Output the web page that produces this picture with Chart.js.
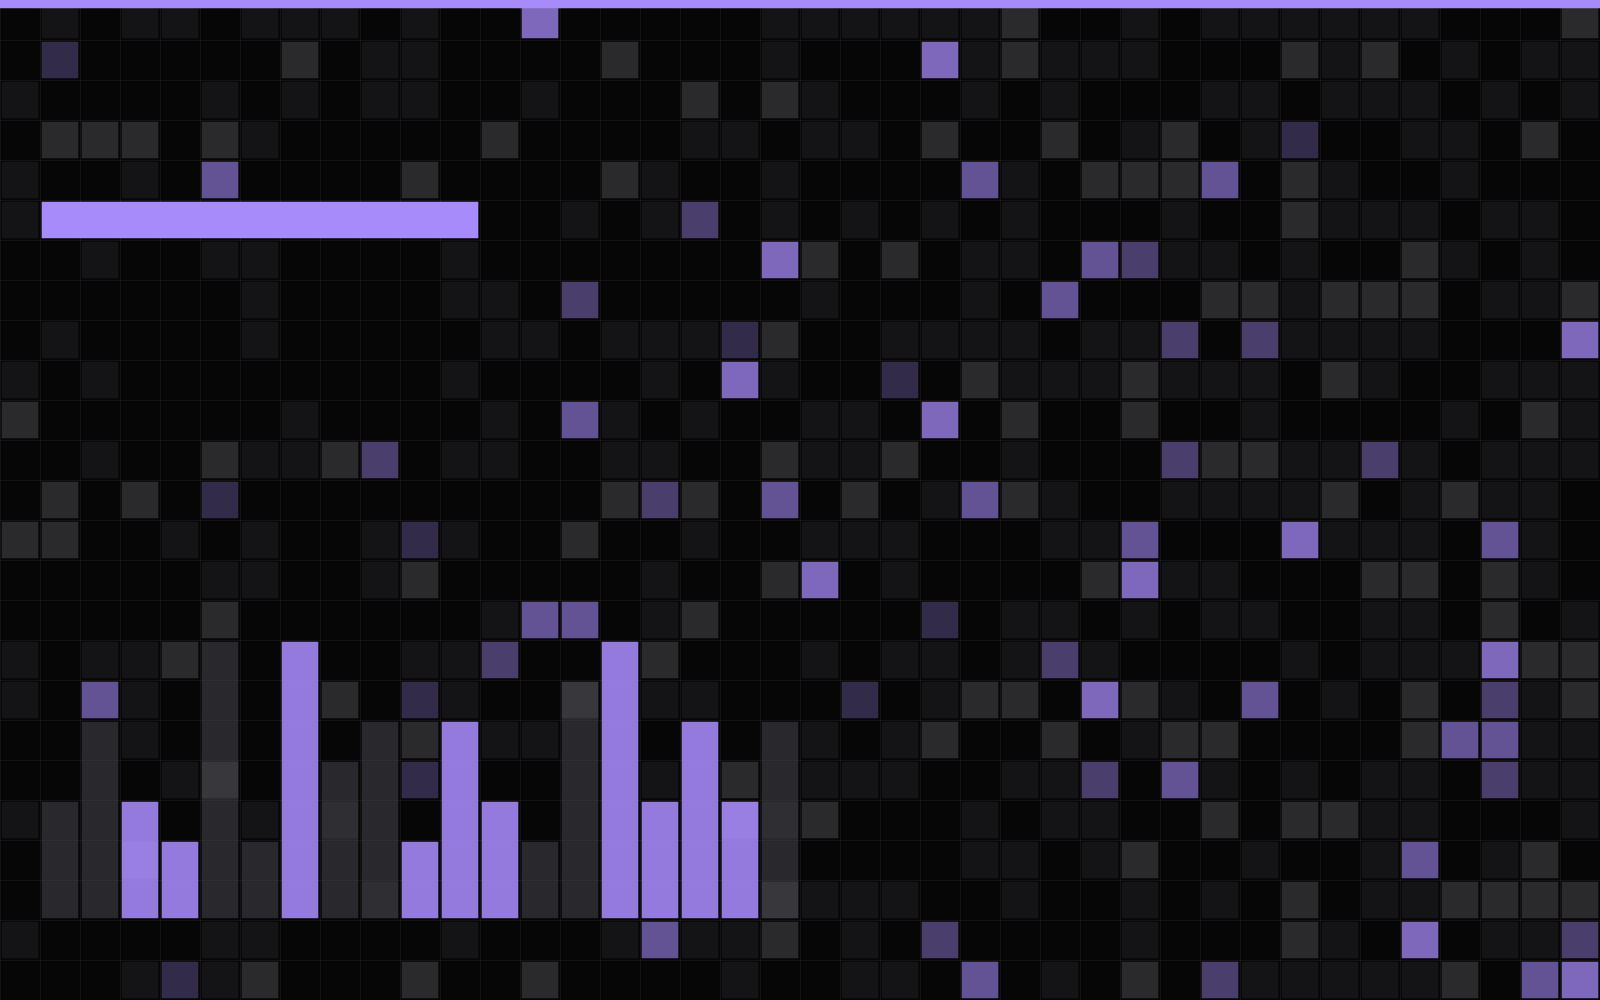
<!DOCTYPE html>
<html>
<head>
<meta charset="utf-8">
<title>Grid</title>
<script src="https://cdn.jsdelivr.net/npm/chart.js@4.4.1/dist/chart.umd.min.js"></script>
<style>
    html, body { margin: 0; padding: 0; background: #060606; }
    #wrap { width: 1600px; height: 1000px; }
</style>
</head>
<body>
<div id="wrap"><canvas id="grid-chart" width="1600" height="1000"></canvas></div>
<script>
var columnLabels = [];
for (var i = 1; i <= 40; i++) columnLabels.push("C" + i);
var rowLabels = [];
for (var j = 1; j <= 25; j++) rowLabels.push("R" + j);

// shade of every cell, row by row: 0 empty, 1 dim, 2 grey, 3..6 violet (weak -> strong)
var cellLevels = [
    [0,1,0,1,1,0,1,1,1,0,1,0,0,6,0,0,0,0,0,1, 1,1,1,1,1,2,0,0,1,0,1,1,1,1,1,1,0,0,0,2],
    [0,3,0,0,0,0,0,2,0,1,1,0,0,0,0,2,0,0,0,1, 0,0,0,6,1,2,1,1,1,0,0,0,2,1,2,0,1,0,1,1],
    [1,0,0,0,0,1,0,1,0,1,1,0,0,1,0,0,0,2,0,2, 1,0,0,0,1,0,1,0,0,0,1,1,0,1,1,1,0,1,0,1],
    [0,2,2,2,0,2,1,0,0,0,0,0,2,0,0,0,0,1,1,0, 1,1,0,2,0,0,2,0,1,2,0,1,3,0,0,1,1,0,2,0],
    [1,0,0,1,0,5,0,0,0,0,2,0,0,0,0,2,1,0,0,1, 0,0,0,0,5,1,0,2,2,2,5,0,2,1,0,0,1,0,0,0],
    [1,0,0,0,0,0,0,0,0,0,0,0,0,0,1,0,1,4,0,1, 0,1,0,1,0,1,0,0,0,1,0,0,2,1,1,1,0,1,1,0],
    [0,0,1,0,0,1,1,0,0,0,0,1,0,0,0,0,0,0,0,6, 2,0,2,0,1,1,0,5,4,1,1,0,1,0,0,2,1,0,1,0],
    [0,0,0,0,0,0,1,0,0,0,0,1,1,0,4,0,0,0,0,0, 1,0,0,0,1,0,5,0,0,0,2,2,1,2,2,2,0,1,1,2],
    [0,1,0,0,0,0,1,0,0,0,0,0,1,1,0,1,1,1,3,2, 0,0,1,1,1,1,0,1,1,4,0,4,1,1,1,1,0,0,0,6],
    [1,0,1,0,0,0,0,0,0,0,0,1,0,0,0,0,1,0,6,1, 0,0,3,0,2,1,1,1,2,1,1,1,0,2,1,0,0,1,1,1],
    [2,0,0,0,0,0,0,1,0,0,0,0,1,0,5,1,0,1,0,0, 1,1,0,6,0,2,0,0,2,0,0,1,0,0,0,0,1,0,2,1],
    [0,0,1,0,0,2,1,1,2,4,0,1,1,0,0,1,1,0,0,2, 1,1,2,0,0,1,0,0,0,4,2,2,1,1,4,1,0,1,1,1],
    [0,2,0,2,0,3,0,0,0,0,0,0,0,0,0,2,4,2,0,5, 0,2,0,1,5,2,1,0,0,1,1,1,1,2,0,1,2,1,1,0],
    [2,2,0,0,1,0,1,0,0,1,3,1,0,0,2,0,0,1,0,0, 1,1,1,0,0,0,1,1,5,0,0,0,6,1,1,1,0,5,1,0],
    [0,0,0,0,0,1,1,0,0,1,2,0,0,0,0,0,1,0,0,2, 6,0,1,0,0,0,0,2,6,1,1,0,0,0,2,2,0,2,1,0],
    [0,0,0,0,0,2,0,0,0,0,0,0,1,5,5,0,1,2,0,0, 0,0,0,3,0,1,1,0,1,0,1,1,0,0,1,1,0,2,0,1],
    [1,0,1,1,2,0,0,0,0,0,1,1,4,0,0,0,2,0,0,0, 1,0,1,1,0,1,4,1,0,0,0,0,1,0,1,1,1,6,2,2],
    [1,0,5,1,0,0,0,0,2,0,3,1,0,0,2,0,1,1,0,0, 0,3,0,1,2,2,0,6,2,1,0,5,0,1,0,2,0,4,1,2],
    [0,0,0,1,0,0,0,0,0,0,2,0,1,1,0,0,0,0,0,0, 1,0,1,2,0,0,2,0,1,2,2,0,0,0,0,2,5,5,1,1],
    [0,0,0,0,1,2,0,0,0,0,3,0,0,0,0,0,1,0,2,0, 1,1,1,0,0,1,1,4,0,5,1,0,1,0,1,1,0,4,1,1],
    [1,0,0,0,0,0,1,0,1,0,0,0,0,0,0,0,0,0,2,1, 2,0,0,0,1,0,1,1,0,0,2,0,2,2,1,1,0,0,0,1],
    [0,0,0,2,0,0,0,0,0,0,0,0,0,0,0,0,0,0,0,0, 0,0,0,0,1,1,0,1,2,0,0,1,0,0,1,5,0,1,2,0],
    [0,0,0,0,0,0,0,0,0,1,0,0,0,0,0,0,0,0,0,2, 1,1,1,0,0,1,0,0,1,0,1,0,2,0,1,1,2,2,2,2],
    [1,0,0,0,0,1,1,0,0,0,0,1,0,0,0,1,5,1,1,2, 0,1,0,4,0,0,0,0,1,0,0,0,2,1,0,6,0,1,1,4],
    [0,0,0,1,3,1,2,0,0,0,2,0,0,2,0,0,0,0,1,0, 0,1,1,0,5,0,1,0,2,0,4,1,1,1,1,1,2,0,5,6]
];

// column bars rising from the bottom band (in cells)
var greyBars   = [null,3,5,null,null,7,2,null,4,5,null,null,null,2,6,null,null,null,null,5];
var violetBars = [null,null,null,3,2,null,null,7,null,null,2,5,3,null,null,7,3,5,3,null];

// the long horizontal bar
var spanRow = "R6";
var spanFrom = 1;
var spanTo = 12;

// top progress band (depth in rows)
var bandDepth = 0.2;

var INSET = 0.042;
var BG = [6, 6, 6];
var VIOLET = [167, 139, 250];
var violetAlpha = { 3: 0.28, 4: 0.42, 5: 0.58, 6: 0.74 };

var mix = (c, a) => {
    var r = Math.round(c[0] * a + BG[0] * (1 - a));
    var g = Math.round(c[1] * a + BG[1] * (1 - a));
    var b = Math.round(c[2] * a + BG[2] * (1 - a));
    return "rgb(" + r + "," + g + "," + b + ")";
};
var shadeOf = (level) => {
    if (level === 1) return "#141416";
    if (level === 2) return "#2a2a2d";
    if (level >= 3) return mix(VIOLET, violetAlpha[level]);
    return "#060606";
};

var datasets = [];

datasets.push({
    label: "span", type: "bar", indexAxis: "y", xAxisID: "colLin", yAxisID: "rowCat", order: 0,
    data: [{ x: [spanFrom + INSET, spanTo - INSET], y: spanRow }],
    backgroundColor: "#a78bfa"
});
datasets.push({
    label: "band", type: "bar", yAxisID: "yRow", order: 0, barPercentage: 1,
    data: columnLabels.map(() => [0, bandDepth]),
    backgroundColor: "#a78bfa"
});
datasets.push({
    label: "violet", type: "bar", yAxisID: "yBar", order: 1,
    data: violetBars.map((v) => v ? [INSET, v - INSET] : null),
    backgroundColor: "rgba(167,139,250,0.88)"
});
datasets.push({
    label: "grey", type: "bar", yAxisID: "yBar", order: 1,
    data: greyBars.map((v) => v ? [INSET, v - INSET] : null),
    backgroundColor: "rgba(63,63,70,0.62)"
});
cellLevels.forEach((levels, r) => {
    datasets.push({
        label: rowLabels[r], type: "bar", yAxisID: "yRow", order: 5,
        data: levels.map(() => [r + INSET, r + 1 - INSET]),
        backgroundColor: levels.map(shadeOf)
    });
});

var gridLine = "rgba(255,255,255,0.055)";
var ctx = document.getElementById("grid-chart").getContext("2d");
var chart = new Chart(ctx, {
    type: "bar",
    data: { labels: columnLabels, datasets: datasets },
    options: {
        responsive: false,
        animation: false,
        devicePixelRatio: 1,
        layout: { padding: 0 },
        plugins: { legend: { display: false }, tooltip: { enabled: false } },
        datasets: { bar: { grouped: false, categoryPercentage: 1, barPercentage: 0.915, borderWidth: 0 } },
        scales: {
            x: {
                type: "category", axis: "x", offset: true,
                grid: { offset: true, color: gridLine, drawTicks: false },
                border: { display: false },
                ticks: { display: false, autoSkip: false }
            },
            rowCat: {
                type: "category", axis: "y", labels: rowLabels, offset: true,
                grid: { offset: true, color: gridLine, drawTicks: false },
                border: { display: false },
                ticks: { display: false, autoSkip: false }
            },
            yRow: { type: "linear", axis: "y", min: 0, max: 25, reverse: true, offset: false, display: false },
            yBar: { type: "linear", axis: "y", min: -2, max: 23, offset: false, display: false },
            colLin: { type: "linear", axis: "x", min: 0, max: 40, offset: false, display: false }
        }
    }
});
</script>
</body>
</html>
